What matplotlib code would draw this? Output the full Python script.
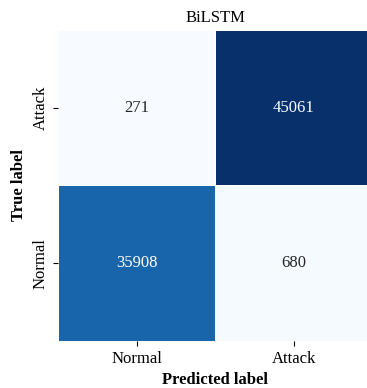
import numpy as np
import matplotlib
matplotlib.use('Agg')
import matplotlib.pyplot as plt
import seaborn as sns

# Confusion matrix counts (rows: true label, columns: predicted label)
row_labels = ['Attack', 'Normal']
col_labels = ['Normal', 'Attack']
attack_row = [271, 45061]
normal_row = [35908, 680]

cm = np.array([attack_row, normal_row])

plt.rcParams['font.family'] = ['Liberation Serif', 'DejaVu Serif']

fig = plt.figure(figsize=(3.67, 3.88), dpi=100)
ax = fig.add_axes([0.159, 0.121, 0.856, 0.802])

sns.heatmap(cm, annot=True, fmt='d', cmap='Blues', cbar=False,
            linewidths=0.5, linecolor='white',
            xticklabels=col_labels, yticklabels=row_labels,
            annot_kws={'fontsize': 12}, ax=ax)

ax.set_title('BiLSTM', fontsize=12)
ax.set_xlabel('Predicted label', fontsize=12, fontweight='bold')
ax.set_ylabel('True label', fontsize=12, fontweight='bold')
ax.tick_params(labelsize=12)
plt.setp(ax.get_yticklabels(), rotation=90, va='center')

fig.savefig('out.png', dpi=100)
